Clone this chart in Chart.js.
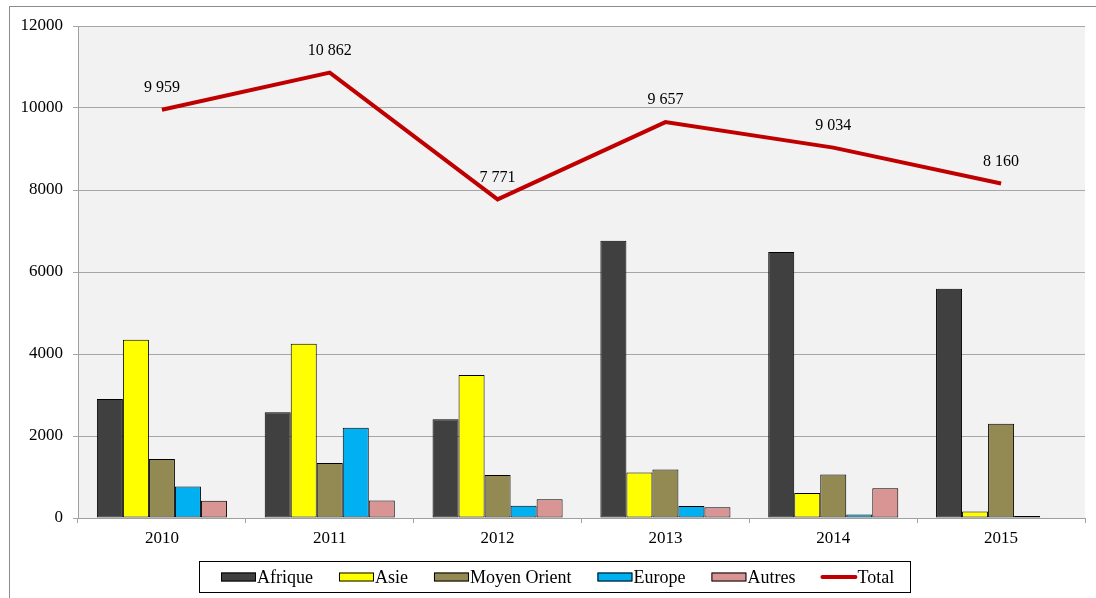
<!DOCTYPE html>
<html>
<head>
<meta charset="utf-8">
<script src="https://cdn.jsdelivr.net/npm/chart.js@4.4.1/dist/chart.umd.min.js"></script>
<style>
  html, body { margin: 0; padding: 0; background: #fff; }
  #wrap { width: 1096px; height: 598px; position: relative; }
</style>
</head>
<body>
<div id="wrap"><canvas id="chart"></canvas></div>
<script>
const ANNEES       = ['2010', '2011', '2012', '2013', '2014', '2015'];
const AFRIQUE      = [2900, 2580, 2410, 6760, 6490, 5590];
const ASIE         = [4350, 4250, 3490, 1110, 610, 160];
const MOYEN_ORIENT = [1440, 1340, 1050, 1180, 1060, 2300];
const EUROPE       = [770, 2200, 300, 290, 85, 50];
const AUTRES       = [420, 425, 460, 260, 725, 0];
const TOTAL        = [9959, 10862, 7771, 9657, 9034, 8160];
const Y_TICKS      = [0, 2000, 4000, 6000, 8000, 10000, 12000];

const FONT = '"Liberation Serif", "DejaVu Serif", serif';

function fmtNb(v) {
  // séparateur de milliers : espace
  return String(v).replace(/\B(?=(\d{3})+(?!\d))/g, ' ');
}

// fond de la zone de tracé + cadre extérieur
const fondPlugin = {
  id: 'fond',
  beforeDraw(chart) {
    const { ctx, chartArea: a } = chart;
    ctx.save();
    ctx.fillStyle = '#f2f2f2';
    ctx.fillRect(a.left, a.top, a.right - a.left, a.bottom - a.top);
    ctx.strokeStyle = '#8c8c8c';
    ctx.lineWidth = 1;
    ctx.strokeRect(9.5, 6.5, 1200, 700);
    ctx.restore();
  },
};

// étiquettes de la série Total
const etiquettesPlugin = {
  id: 'etiquettes',
  afterDatasetsDraw(chart) {
    const { ctx } = chart;
    const idx = chart.data.datasets.findIndex(d => d.type === 'line');
    const meta = chart.getDatasetMeta(idx);
    ctx.save();
    ctx.font = '16px ' + FONT;
    ctx.fillStyle = '#000';
    ctx.textAlign = 'center';
    ctx.textBaseline = 'middle';
    meta.data.forEach((pt, i) => {
      ctx.fillText(fmtNb(TOTAL[i]), pt.x, pt.y - 22);
    });
    ctx.restore();
  },
};

// légende dessinée à la main (boîte encadrée sous le graphique)
const legendePlugin = {
  id: 'legende',
  afterDraw(chart) {
    const { ctx } = chart;
    const sets = chart.data.datasets;
    const BOX_W = 35, BOX_H = 9, GAP = 26, CX = 558, CY = 577;
    ctx.save();
    ctx.font = '18px ' + FONT;
    const widths = sets.map(d => BOX_W + 1 + ctx.measureText(d.label).width);
    const total = widths.reduce((s, w) => s + w, 0) + GAP * (sets.length - 1);
    let x = Math.round(CX - total / 2);

    ctx.strokeStyle = '#000';
    ctx.lineWidth = 1;
    ctx.strokeRect(x - 21.5, 561.5, Math.round(total + 38), 31);

    ctx.textBaseline = 'middle';
    ctx.fillStyle = '#000';
    sets.forEach((d, i) => {
      if (d.type === 'line') {
        ctx.strokeStyle = d.borderColor;
        ctx.lineWidth = 4;
        ctx.lineCap = 'round';
        ctx.beginPath();
        ctx.moveTo(x + 1, CY);
        ctx.lineTo(x + BOX_W - 1, CY);
        ctx.stroke();
      } else {
        ctx.fillStyle = d.backgroundColor;
        ctx.fillRect(x, CY - BOX_H / 2, BOX_W, BOX_H);
        ctx.strokeStyle = '#000';
        ctx.lineWidth = 1;
        ctx.strokeRect(x + 0.5, CY - BOX_H / 2 + 0.5, BOX_W - 1, BOX_H - 1);
      }
      ctx.fillStyle = '#000';
      ctx.fillText(d.label, x + BOX_W + 1, CY + 1);
      x += widths[i] + GAP;
    });
    ctx.restore();
  },
};

function barSet(label, data, color) {
  return {
    type: 'bar',
    label,
    data,
    backgroundColor: color,
    borderColor: '#000',
    borderWidth: 1,
    borderSkipped: false,
    barPercentage: 1,
    categoryPercentage: 0.775,
    order: 1,
  };
}

new Chart(document.getElementById('chart'), {
  data: {
    labels: ANNEES,
    datasets: [
      barSet('Afrique', AFRIQUE, '#404040'),
      barSet('Asie', ASIE, '#ffff00'),
      barSet('Moyen Orient', MOYEN_ORIENT, '#938953'),
      barSet('Europe', EUROPE, '#00b0f0'),
      barSet('Autres', AUTRES, '#d99594'),
      {
        type: 'line',
        label: 'Total',
        data: TOTAL,
        borderColor: '#c00000',
        backgroundColor: '#c00000',
        borderWidth: 4,
        pointRadius: 0,
        tension: 0,
        order: 0,
      },
    ],
  },
  options: {
    responsive: true,
    maintainAspectRatio: false,
    animation: false,
    layout: { padding: { left: 20, right: 11, top: 26, bottom: 44 } },
    plugins: {
      tooltip: { enabled: false },
      legend: { display: false },
    },
    scales: {
      x: {
        grid: { offset: true, drawOnChartArea: false, drawTicks: true, tickLength: 5, color: '#a0a0a0' },
        border: { color: '#a0a0a0', width: 1 },
        ticks: { font: { family: FONT, size: 17 }, color: '#000', padding: 5 },
        afterFit: s => { s.height = 36; },
      },
      y: {
        min: 0,
        max: 12000,
        afterBuildTicks: s => { s.ticks = Y_TICKS.map(v => ({ value: v })); },
        grid: { color: '#a6a6a6', lineWidth: 1, drawTicks: true, tickLength: 5 },
        border: { color: '#a0a0a0', width: 1 },
        ticks: { font: { family: FONT, size: 17 }, color: '#000', padding: 10, callback: v => String(v) },
        afterFit: s => { s.width = 58; },
      },
    },
  },
  plugins: [fondPlugin, etiquettesPlugin, legendePlugin],
});
</script>
</body>
</html>
